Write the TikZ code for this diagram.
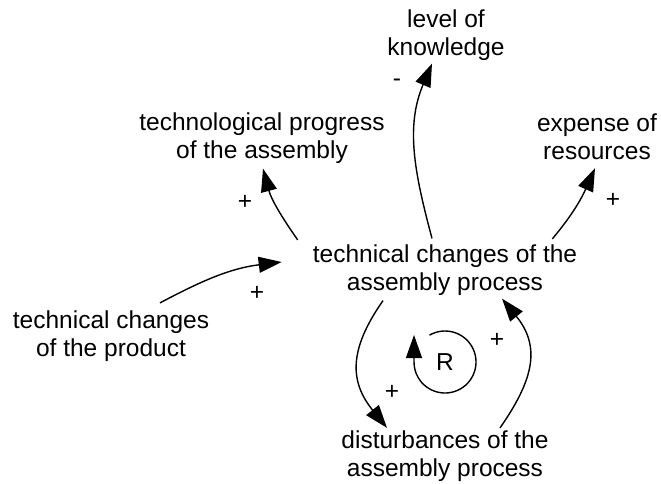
\documentclass[tikz,border=0pt]{standalone}
\usepackage{fontspec}
\setmainfont{Liberation Sans}
\usetikzlibrary{arrows.meta}

\begin{document}
\begin{tikzpicture}[
        x=1pt, y=1pt,
        every node/.style={font=\fontsize{24.5}{28}\selectfont, align=center, inner sep=0pt},
        var/.style={},
        sign/.style={},
        link/.style={-{Triangle[length=23pt,width=16pt]}, line width=1.4pt}
    ]
    \useasboundingbox (0,0) rectangle (661,-483);
    % Variables
    \node[var] (process) at (445,-270) {technical changes of the\\assembly process};
    \node[var] (knowledge) at (446,-35) {level of\\knowledge};
    \node[var] (progress) at (262,-138) {technological progress\\of the assembly};
    \node[var] (expense) at (597,-137) {expense of\\resources};
    \node[var] (product) at (111,-336) {technical changes\\of the product};
    \node[var] (disturb) at (445,-456) {disturbances of the\\assembly process};
    \node (loop) at (445,-362) {R};
    % Links
    \draw[link] ([xshift=-13pt, yshift=6pt]process.north) to[out=105, in=-113] ([xshift=-14pt, yshift=-3pt]knowledge.south);
    \draw[link] ([xshift=-15pt, yshift=4.5pt]process.north west) to[out=125, in=-75] ([xshift=1pt, yshift=-5pt]progress.south);
    \draw[link] ([xshift=-25pt, yshift=5.5pt]process.north east) to[out=50, in=-114] ([xshift=-2pt, yshift=-8pt]expense.south);
    \draw[link] ([xshift=49pt, yshift=7.5pt]product.north) to[out=28, in=187] ([xshift=-31pt, yshift=8pt]process.west);
    \draw[link] ([xshift=-62pt, yshift=-5pt]process.south) to[out=235, in=129, looseness=1.2] ([xshift=-58pt, yshift=2.5pt]disturb.north);
    \draw[link] ([xshift=55pt, yshift=2.5pt]disturb.north) to[out=55, in=-51, looseness=1.2] ([xshift=57pt, yshift=-3pt]process.south);
    \draw[link] ([shift={(120:31)}]loop.center) arc[start angle=120, end angle=-180, radius=31] -- ++(0,27);
    % Polarities
    \node[sign] (s1) at (397,-83) {-};
    \node[sign] (s2) at (245,-202) {+};
    \node[sign] (s3) at (613,-200) {+};
    \node[sign] (s4) at (257,-293) {+};
    \node[sign] (s5) at (392,-392) {+};
    \node[sign] (s6) at (497,-340) {+};
\end{tikzpicture}
\end{document}
